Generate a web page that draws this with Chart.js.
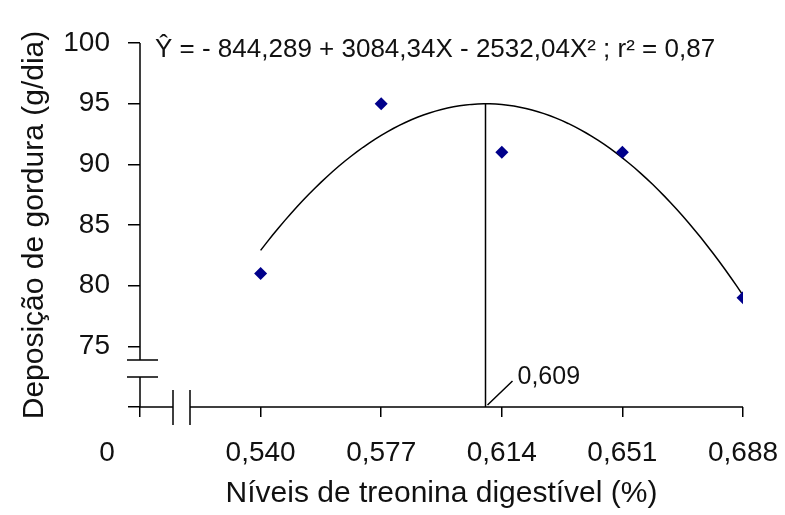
<!DOCTYPE html>
<html lang="pt">
<head>
  <meta charset="UTF-8" />
  <title>Deposição de gordura x treonina digestível</title>
  <script src="https://cdn.jsdelivr.net/npm/chart.js"></script>
  <style>
    body {
      margin: 0;
      background: #fff;
    }

    #grafico {
      display: block;
      background: #fff;
    }
  </style>
</head>
<body>
  <canvas id="grafico" width="785" height="515"></canvas>

  <script>
    // Níveis de treonina digestível (%) e deposição de gordura (g/dia)
    const niveis = [0.540, 0.577, 0.614, 0.651, 0.688];
    const deposicao = [81, 95, 91, 91, 79];

    // Ŷ = b0 + b1·X + b2·X²
    const coeficientes = [-844.289, 3084.34, -2532.04];
    const r2 = 0.87;
    const pontoMaximo = 0.609;

    // eixo X quebrado: a origem "0" fica um intervalo antes de 0,540
    const xOrigem = 0.503;
    const xTicks = [0.503, 0.540, 0.577, 0.614, 0.651, 0.688];
    const xTickLabels = ['0', '0,540', '0,577', '0,614', '0,651', '0,688'];
    const yMin = 70;
    const yMax = 100;
    const yPasso = 5;

    const FONTE = '"Liberation Sans", Arial, sans-serif';
    const COR_TEXTO = '#111';

    function regressao(x) {
      return coeficientes[0] + coeficientes[1] * x + coeficientes[2] * x * x;
    }

    // curva ajustada entre o primeiro e o último nível
    const curva = [];
    const nPassos = 80;
    for (let i = 0; i <= nPassos; i++) {
      const x = niveis[0] + (niveis[niveis.length - 1] - niveis[0]) * i / nPassos;
      curva.push({ x: x, y: regressao(x) });
    }

    const eixosQuebrados = {
      id: 'eixosQuebrados',
      afterDraw(chart) {
        const { ctx, scales: { x, y } } = chart;
        const x0 = x.left;
        const y0 = y.bottom;
        const xv = x.getPixelForValue(pontoMaximo);

        ctx.save();
        ctx.strokeStyle = '#000';
        ctx.lineWidth = 1.5;
        ctx.beginPath();
        // eixo Y com quebra
        ctx.moveTo(x0, y.top);
        ctx.lineTo(x0, y0 - 47);
        ctx.moveTo(x0, y0 - 30);
        ctx.lineTo(x0, y0);
        ctx.moveTo(x0 - 13, y0 - 47);
        ctx.lineTo(x0 + 18, y0 - 47);
        ctx.moveTo(x0 - 13, y0 - 30);
        ctx.lineTo(x0 + 18, y0 - 30);
        // eixo X com quebra
        ctx.moveTo(x0, y0);
        ctx.lineTo(x0 + 33, y0);
        ctx.moveTo(x0 + 50, y0);
        ctx.lineTo(x.right, y0);
        ctx.moveTo(x0 + 33, y0 - 17);
        ctx.lineTo(x0 + 33, y0 + 18);
        ctx.moveTo(x0 + 50, y0 - 17);
        ctx.lineTo(x0 + 50, y0 + 18);
        // traço indicando o ponto de máximo
        ctx.moveTo(xv + 2, y0 - 2);
        ctx.lineTo(xv + 27, y0 - 26);
        ctx.stroke();

        ctx.fillStyle = COR_TEXTO;
        ctx.textBaseline = 'middle';

        // rótulo "0" da origem, à esquerda do eixo Y
        ctx.font = '28px ' + FONTE;
        ctx.textAlign = 'center';
        ctx.fillText(xTickLabels[0], x0 - 33, x.top + 10 + 19 + 28 * 1.2 / 2);

        ctx.font = '25px ' + FONTE;
        ctx.textAlign = 'left';
        ctx.fillText(pontoMaximo.toFixed(3).replace('.', ','), xv + 32, y0 - 30);

        // equação de regressão
        ctx.font = '26px ' + FONTE;
        ctx.textBaseline = 'alphabetic';
        const eq = 'Ŷ = - 844,289 + 3084,34X - 2532,04X² ; r² = ' + r2.toFixed(2).replace('.', ',');
        ctx.fillText(eq, x0 + 15, y.top + 14);
        ctx.restore();
      }
    };

    const ctx = document.getElementById('grafico').getContext('2d');

    new Chart(ctx, {
      type: 'scatter',
      data: {
        datasets: [
          {
            data: niveis.map((x, i) => ({ x: x, y: deposicao[i] })),
            pointStyle: 'rectRot',
            pointRadius: 6.5,
            backgroundColor: '#00008b',
            borderColor: '#00008b',
            borderWidth: 0,
            order: 0
          },
          {
            data: curva,
            showLine: true,
            pointRadius: 0,
            borderColor: '#000',
            borderWidth: 1.5,
            order: 1
          },
          {
            data: [
              { x: pontoMaximo, y: yMin },
              { x: pontoMaximo, y: regressao(pontoMaximo) }
            ],
            showLine: true,
            pointRadius: 0,
            borderColor: '#000',
            borderWidth: 1.5,
            order: 2
          }
        ]
      },
      options: {
        responsive: false,
        animation: false,
        layout: {
          padding: { top: 43, right: 42, left: 0, bottom: 0 }
        },
        plugins: {
          legend: { display: false },
          tooltip: { enabled: false }
        },
        scales: {
          x: {
            type: 'linear',
            min: xOrigem,
            max: niveis[niveis.length - 1],
            afterBuildTicks: (s) => { s.ticks = xTicks.map(v => ({ value: v })); },
            afterFit: (s) => {
              s.height = 108;
              s.paddingLeft = 0;
              s.paddingRight = 0;
            },
            border: { display: false },
            grid: {
              drawOnChartArea: false,
              tickLength: 10,
              lineWidth: 1.5,
              color: '#000'
            },
            ticks: {
              autoSkip: false,
              maxRotation: 0,
              padding: 19,
              color: COR_TEXTO,
              font: { family: FONTE, size: 28 },
              callback: (v, i) => (i === 0 ? '' : xTickLabels[i])
            },
            title: {
              display: true,
              text: 'Níveis de treonina digestível (%)',
              color: COR_TEXTO,
              font: { family: FONTE, size: 30 },
              padding: { top: 4, bottom: 3 }
            }
          },
          y: {
            min: yMin,
            max: yMax,
            afterFit: (s) => {
              s.width = 140;
              s.paddingTop = 0;
              s.paddingBottom = 0;
            },
            border: { display: false },
            grid: {
              drawOnChartArea: false,
              tickLength: 12,
              lineWidth: 1.5,
              color: '#000'
            },
            ticks: {
              stepSize: yPasso,
              padding: 18,
              color: COR_TEXTO,
              font: { family: FONTE, size: 28 },
              callback: (v) => (v === yMin ? '' : v)
            },
            title: {
              display: true,
              text: 'Deposição de gordura (g/dia)',
              color: COR_TEXTO,
              font: { family: FONTE, size: 30 },
              padding: { top: 17, bottom: 0 }
            }
          }
        }
      },
      plugins: [eixosQuebrados]
    });
  </script>
</body>
</html>
